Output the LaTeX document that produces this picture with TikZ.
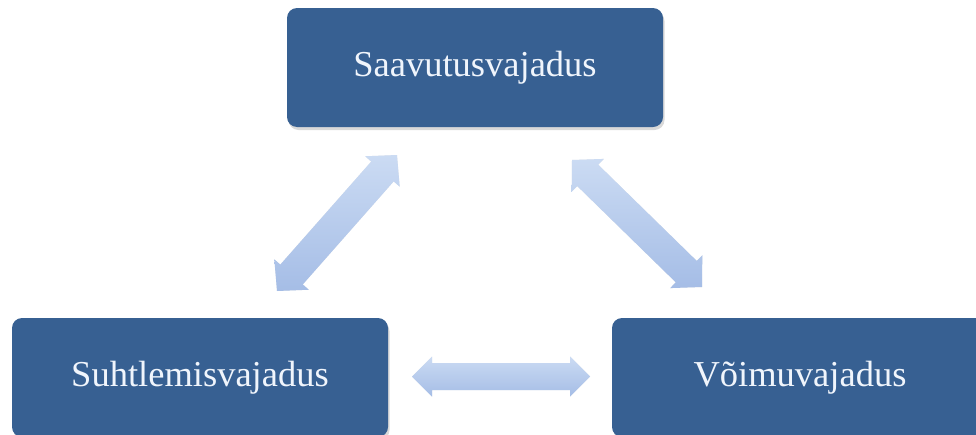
\documentclass[tikz,border=0pt]{standalone}
\usepackage{fontspec}
\setmainfont{Liberation Serif}
\usetikzlibrary{calc,shadows}
\definecolor{boxblue}{RGB}{55,96,146}
\definecolor{txtwhite}{RGB}{240,245,252}
\definecolor{arrlight}{RGB}{203,219,243}
\definecolor{arrdark}{RGB}{165,189,230}
\tikzset{
  needbox/.style={rounded corners=10pt, fill=boxblue, draw=none,
    minimum width=376pt, minimum height=119pt, inner sep=0pt,
    text=txtwhite, font=\fontsize{36.5}{40}\selectfont,
    drop shadow={shadow xshift=1.5pt, shadow yshift=-3pt, opacity=0.25, fill=black!60}},
  arrowfill/.style={top color=arrlight, bottom color=arrdark, draw=none},
  arrowshadow/.style={fill=black!25, opacity=0.35, draw=none},
}
% #1 style, #2 #3 end coordinates, #4 shaft half width, #5 head half width, #6 head length
\newcommand\dblarrow[6][]{%
  \coordinate (#2p) at ($(#2)!#6!(#3)$);
  \coordinate (#3p) at ($(#3)!#6!(#2)$);
  \path[#1] (#2)
    -- ($(#2p)!#5!90:(#3)$) -- ($(#2p)!#4!90:(#3)$)
    -- ($(#3p)!#4!-90:(#2)$) -- ($(#3p)!#5!-90:(#2)$)
    -- (#3)
    -- ($(#3p)!#5!90:(#2)$) -- ($(#3p)!#4!90:(#2)$)
    -- ($(#2p)!#4!-90:(#3)$) -- ($(#2p)!#5!-90:(#3)$)
    -- cycle;
}
\begin{document}
\begin{tikzpicture}[x=1pt,y=-1pt]
\useasboundingbox (0,0) rectangle (976,434);
\node[needbox] (saav) at (475,67.5) {\raisebox{-3pt}{Saavutusvajadus}};
\node[needbox] (suht) at (200,377.5) {\raisebox{-3pt}{Suhtlemisvajadus}};
\node[needbox] (voim) at (800,377.5) {\raisebox{-3pt}{Võimuvajadus}};
% arrow end points
\coordinate (la) at (397,155);
\coordinate (lb) at (277,291);
\coordinate (ra) at (572,160);
\coordinate (rb) at (702,287);
\coordinate (ha) at (412,376.5);
\coordinate (hb) at (590,376.5);
% shadows
\begin{scope}[shift={(1.5,2.5)}]
\dblarrow[arrowshadow]{la}{lb}{15pt}{23pt}{22pt}
\dblarrow[arrowshadow]{ra}{rb}{15pt}{23pt}{22pt}
\dblarrow[arrowshadow]{ha}{hb}{13.5pt}{20pt}{20pt}
\end{scope}
\dblarrow[arrowfill]{la}{lb}{15pt}{23pt}{22pt}
\dblarrow[arrowfill]{ra}{rb}{15pt}{23pt}{22pt}
\dblarrow[arrowfill]{ha}{hb}{13.5pt}{20pt}{20pt}
\end{tikzpicture}
\end{document}
